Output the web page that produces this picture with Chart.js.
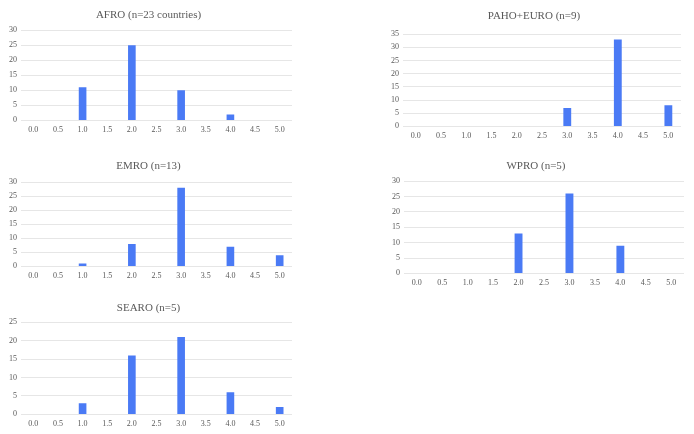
<!DOCTYPE html>
<html>
<head>
<meta charset="utf-8">
<script src="https://cdn.jsdelivr.net/npm/chart.js@4.4.0/dist/chart.umd.min.js"></script>
<style>
  html, body { margin: 0; padding: 0; background: #fff; }
  body { width: 694px; height: 434px; position: relative; overflow: hidden; }
  .panel { position: absolute; }
</style>
</head>
<body>
<div class="panel" style="left:0px; top:5px; width:298px; height:135px;"><canvas id="afro"></canvas></div>
<div class="panel" style="left:382px; top:6px; width:305px; height:140px;"><canvas id="paho"></canvas></div>
<div class="panel" style="left:0px; top:156px; width:298px; height:130px;"><canvas id="emro"></canvas></div>
<div class="panel" style="left:383px; top:156px; width:307px; height:137px;"><canvas id="wpro"></canvas></div>
<div class="panel" style="left:0px; top:298px; width:298px; height:136px;"><canvas id="searo"></canvas></div>
<script>
// --------------------------------------
// Data
// --------------------------------------
const scoreLabels = ["0.0", "0.5", "1.0", "1.5", "2.0", "2.5", "3.0", "3.5", "4.0", "4.5", "5.0"];

const afroValues  = [0, 0, 11, 0, 25, 0, 10, 0, 2, 0, 0];
const pahoValues  = [0, 0, 0, 0, 0, 0, 7, 0, 33, 0, 8];
const emroValues  = [0, 0, 1, 0, 8, 0, 28, 0, 7, 0, 4];
const wproValues  = [0, 0, 0, 0, 13, 0, 26, 0, 9, 0, 0];
const searoValues = [0, 0, 3, 0, 16, 0, 21, 0, 6, 0, 2];

const BAR_COLOR = "#4a7af5";
const TEXT_COLOR = "#595959";
const FONT = "'Liberation Serif', 'Times New Roman', serif";

// --------------------------------------
// Chart builder
// --------------------------------------
function makeHistogram(canvasId, title, values, yMax, titleGap) {
    const ctx = document.getElementById(canvasId).getContext("2d");
    return new Chart(ctx, {
        type: "bar",
        data: {
            labels: scoreLabels,
            datasets: [{ data: values, backgroundColor: BAR_COLOR, barPercentage: 0.31, categoryPercentage: 1.0 }]
        },
        options: {
            responsive: true,
            maintainAspectRatio: false,
            animation: false,
            layout: { padding: { left: 5, right: 6, top: 0, bottom: 0 } },
            plugins: {
                legend: { display: false },
                tooltip: { enabled: false },
                title: {
                    display: true, text: title, color: TEXT_COLOR,
                    font: { family: FONT, size: 11, weight: "normal" },
                    padding: { top: 4, bottom: titleGap }
                }
            },
            scales: {
                x: {
                    grid: { display: false, drawTicks: false },
                    border: { display: false },
                    ticks: { color: TEXT_COLOR, font: { family: FONT, size: 8 }, maxRotation: 0, autoSkip: false, padding: 5 }
                },
                y: {
                    min: 0, max: yMax,
                    grid: { color: "#e6e6e6", lineWidth: 1, drawTicks: false },
                    border: { display: false },
                    ticks: { stepSize: 5, autoSkip: false, color: TEXT_COLOR, font: { family: FONT, size: 8 }, padding: 4 }
                }
            }
        }
    });
}

makeHistogram("afro", "AFRO (n=23 countries)", afroValues, 30, 8);
makeHistogram("paho", "PAHO+EURO (n=9)", pahoValues, 35, 11);
makeHistogram("emro", "EMRO (n=13)", emroValues, 30, 9);
makeHistogram("wpro", "WPRO (n=5)", wproValues, 30, 8);
makeHistogram("searo", "SEARO (n=5)", searoValues, 25, 7);
</script>
</body>
</html>
